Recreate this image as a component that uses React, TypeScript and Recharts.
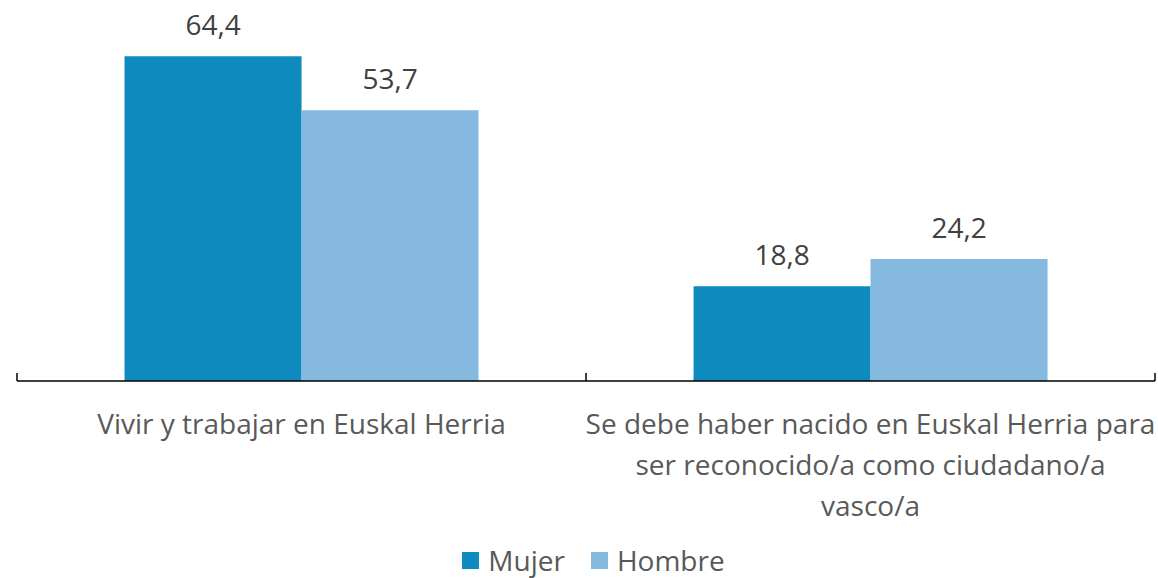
import React from "react";
import { BarChart, Bar, XAxis, YAxis, Legend, LabelList } from "recharts";

const categories = [
  "Vivir y trabajar en Euskal Herria",
  "Se debe haber nacido en Euskal Herria para ser reconocido/a como ciudadano/a vasco/a",
];
const categoryLines = [
  ["Vivir y trabajar en Euskal Herria"],
  ["Se debe haber nacido en Euskal Herria para", "ser reconocido/a como ciudadano/a", "vasco/a"],
];
const mujer = [64.4, 18.8];
const hombre = [53.7, 24.2];

const series = [
  { key: "mujer", name: "Mujer", color: "#0E8ABE" },
  { key: "hombre", name: "Hombre", color: "#85B9E0" },
];

const data = categories.map((name, i) => ({
  name,
  mujer: mujer[i],
  hombre: hombre[i],
}));

const WIDTH = 1158;
const HEIGHT = 578;
const MARGIN = { top: 28, right: 3, left: 17, bottom: 0 };
const BAND = (WIDTH - MARGIN.left - MARGIN.right) / categories.length;
const FONT = "'Open Sans', sans-serif";
const FS = 28;

const fmt = (v: number) => String(v).replace(".", ",");

const CategoryTick = (props: any) => {
  const { x, y, payload, index } = props;
  const lines: string[] = categoryLines[index] ?? [payload.value];
  const left = x - BAND / 2;
  return (
    <g>
      <line x1={left} y1={y - 8} x2={left} y2={y} stroke="#000" strokeWidth={1.5} />
      {index === categories.length - 1 && (
        <line x1={x + BAND / 2} y1={y - 8} x2={x + BAND / 2} y2={y} stroke="#000" strokeWidth={1.5} />
      )}
      <text textAnchor="middle" fontFamily={FONT} fontSize={FS} fill="#595959">
        {lines.map((l, i) => (
          <tspan key={i} x={x} y={y + 53 + i * 41}>
            {l}
          </tspan>
        ))}
      </text>
    </g>
  );
};

const LegendContent = () => (
  <div
    style={{
      display: "flex",
      justifyContent: "center",
      alignItems: "center",
      paddingTop: 26,
      paddingLeft: 15,
      fontFamily: FONT,
      fontSize: FS,
      color: "#595959",
      lineHeight: "26px",
    }}
  >
    {series.map((s, i) => (
      <span
        key={s.key}
        style={{ display: "inline-flex", alignItems: "center", marginRight: i === 0 ? 26 : 0 }}
      >
        <span
          style={{ width: 17, height: 17, background: s.color, display: "inline-block", marginRight: 9 }}
        />
        {s.name}
      </span>
    ))}
  </div>
);

export default function App() {
  return (
    <div style={{ position: "absolute", left: 0, top: 0, width: WIDTH, height: HEIGHT, background: "#fff" }}>
      <BarChart
        width={WIDTH}
        height={HEIGHT}
        data={data}
        margin={MARGIN}
        barGap={0}
        barCategoryGap="18.9%"
      >
        <XAxis
          dataKey="name"
          axisLine={{ stroke: "#000", strokeWidth: 1.5 }}
          tickLine={false}
          tickSize={0}
          tickMargin={0}
          height={140}
          interval={0}
          tick={<CategoryTick />}
        />
        <YAxis hide domain={[0, 70]} />
        <Legend verticalAlign="bottom" height={57} content={<LegendContent />} />
        {series.map((s) => (
          <Bar key={s.key} dataKey={s.key} name={s.name} fill={s.color} isAnimationActive={false}>
            <LabelList
              dataKey={s.key}
              position="top"
              offset={21}
              formatter={(v: any) => fmt(v)}
              style={{ fontFamily: FONT, fontSize: FS, fill: "#404040" }}
            />
          </Bar>
        ))}
      </BarChart>
    </div>
  );
}
